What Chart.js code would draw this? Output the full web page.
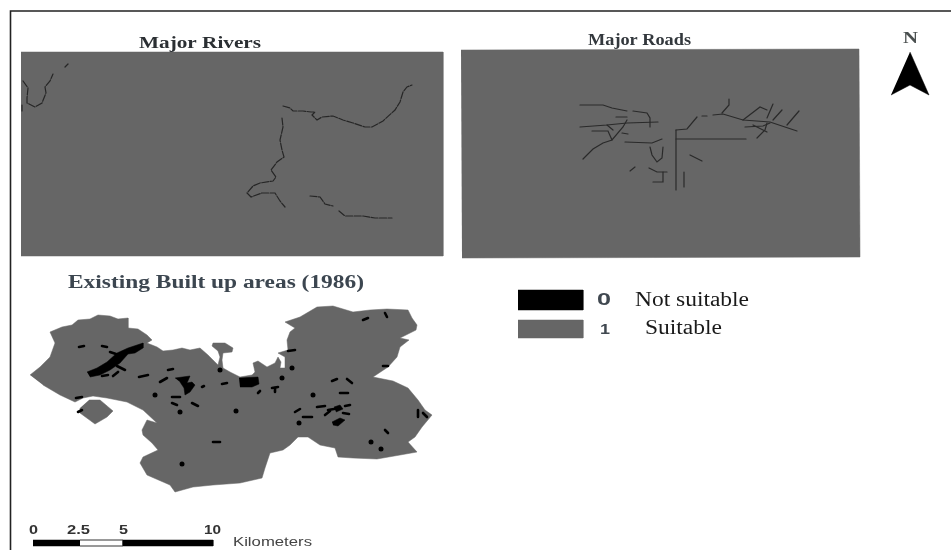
<!DOCTYPE html>
<html>
<head>
<meta charset="utf-8">
<style>
  html, body { margin: 0; padding: 0; background: #fff; }
  #map { display: block; filter: blur(0.6px); }
</style>
<script src="https://cdn.jsdelivr.net/npm/chart.js@4/dist/chart.umd.min.js"></script>
</head>
<body>
<canvas id="map" width="951" height="550"></canvas>
<script>
// map outlines and features in map units
const riversPanel = [[21, 52], [443, 52], [443, 256], [21, 256]];
const roadsPanel = [[461, 50], [859, 49], [860, 257], [462, 258]];
const builtUpMain = [[30,375],[40,367],[50,357],[55,343],[50,332],[62,327],[72,325],[78,320],[90,319],[98,315],[110,316],[118,319],[128,318],[128,328],[138,329],[147,335],[152,340],[147,343],[157,347],[163,351],[173,350],[182,348],[190,350],[200,348],[208,355],[213,360],[218,365],[220,357],[218,351],[212,346],[213,343],[225,343],[233,348],[232,352],[223,353],[222,360],[223,368],[230,372],[240,377],[252,375],[255,372],[253,363],[258,361],[267,367],[275,363],[278,357],[281,362],[280,368],[285,368],[285,357],[278,353],[288,350],[287,340],[290,332],[295,328],[285,322],[300,317],[317,307],[333,306],[353,312],[370,310],[387,309],[408,310],[412,318],[417,325],[416,330],[400,338],[409,340],[400,347],[397,357],[388,367],[373,377],[393,381],[408,388],[418,400],[425,410],[432,415],[422,427],[415,437],[408,442],[417,452],[400,455],[377,459],[353,458],[338,457],[335,448],[320,445],[308,437],[298,437],[290,445],[283,450],[270,453],[265,468],[262,478],[240,483],[213,485],[193,487],[175,492],[170,485],[147,475],[140,463],[143,457],[158,450],[152,443],[143,435],[142,430],[147,420],[157,423],[143,410],[127,402],[107,398],[93,396],[83,398],[75,402],[60,395],[43,385]];
const builtUpIsland = [[89,400],[100,400],[113,411],[107,417],[95,424],[80,413],[80,408]];

const unsuitableBlocks = [
  [[87,372],[97,368],[107,362],[117,353],[128,348],[143,343],[143,348],[135,353],[128,354],[120,363],[110,370],[100,375],[90,377]],
  [[175,378],[190,376],[187,383],[192,382],[195,385],[190,392],[185,395],[184,388],[180,382]],
  [[239,378],[258,377],[259,384],[252,387],[240,387]],
  [[332,422],[340,418],[345,420],[338,426],[333,425]],
  [[334,407],[340,405],[343,409],[336,412]]
];
const unsuitableStrokes = [
  [[79,347],[84,346]], [[102,346],[107,347]], [[76,398],[82,397]], [[78,412],[82,410]], [[139,377],[148,375]],
  [[160,382],[167,378]], [[168,370],[173,369]], [[117,366],[125,370]], [[102,376],[108,375]], [[172,397],[180,397]],
  [[172,403],[177,405]], [[192,403],[198,406]], [[213,442],[220,442]], [[222,384],[227,383]], [[363,320],[368,318]],
  [[385,313],[387,317]], [[288,351],[295,350]], [[383,366],[388,366]], [[332,381],[337,379]], [[347,379],[352,383]],
  [[340,393],[348,393]], [[317,407],[325,406]], [[328,410],[340,408]], [[345,406],[350,405]], [[343,413],[349,414]],
  [[303,417],[312,417]], [[295,412],[300,409]], [[325,415],[330,411]], [[385,430],[388,433]], [[418,410],[418,417]],
  [[423,413],[427,417]], [[272,388],[278,387]], [[275,388],[275,392]], [[258,393],[260,391]], [[202,387],[204,386]],
  [[110,352],[116,354]], [[113,376],[118,372]]
];
const unsuitableDots = [[155,395],[180,412],[236,411],[282,378],[292,368],[313,395],[299,423],[371,442],[381,449],[182,464],[220,370]];

const rivers = [
  [[283,106],[290,108],[293,111],[303,111],[311,112],[315,112],[312,115],[317,120],[322,117],[333,116],[343,120],[353,123],[365,127],[372,127],[383,121],[395,110],[400,102],[403,92],[407,87],[412,85]],
  [[282,118],[283,127],[280,140],[282,150],[284,157],[277,162],[271,170],[276,177],[273,181],[260,183],[253,186],[247,193],[251,197],[262,193],[275,193],[280,201],[285,207]],
  [[310,196],[320,197],[325,204],[333,206]],
  [[339,211],[345,216],[355,216],[363,216],[375,218],[392,218]],
  [[23,81],[28,88],[27,98],[27,103],[35,107],[42,103],[46,93],[45,87],[50,81],[53,74]],
  [[65,67],[68,64]],
  [[22,105],[22,111]]
];
const roads = [
  [[580,105],[603,105],[612,108],[627,111]],
  [[633,111],[647,113],[650,118],[650,127]],
  [[580,127],[607,125],[627,123],[658,122]],
  [[616,117],[627,117]],
  [[627,120],[623,127],[612,140],[603,143],[593,149],[583,159]],
  [[592,131],[608,131],[612,140]],
  [[622,133],[628,134]],
  [[607,125],[613,130]],
  [[625,142],[652,143],[662,139]],
  [[676,130],[676,190]],
  [[676,130],[687,129],[697,117]],
  [[676,139],[746,139]],
  [[702,116],[707,116]],
  [[713,115],[723,114],[743,120],[770,122],[797,131]],
  [[722,113],[729,105],[729,99]],
  [[743,120],[760,107],[767,110]],
  [[767,118],[773,104]],
  [[773,120],[782,110]],
  [[787,125],[793,118],[799,111]],
  [[745,127],[763,126],[770,123]],
  [[757,138],[765,130],[767,123]],
  [[753,125],[767,132]],
  [[650,147],[652,155],[657,162],[662,158],[663,147]],
  [[649,168],[657,172],[667,172]],
  [[663,172],[663,182],[653,182]],
  [[684,172],[684,187]],
  [[690,155],[702,161]],
  [[630,171],[635,167]]
];

const northArrow = [[910,52],[929,95],[910,85],[891,95]];
const notSuitableKey = [[518,290],[583,290],[583,310],[518,310]];
const suitableKey = [[518,320],[583,320],[583,338],[518,338]];
const scaleBlackA = [[33,540],[80,540],[80,546],[33,546]];
const scaleWhite = [[80,540],[123,540],[123,546],[80,546]];
const scaleBlackB = [[123,540],[213,540],[213,546],[123,546]];
const frame = [[10.5,550],[10.5,11],[951,11]];

// text
const panelTitles = ['Major Rivers', 'Major Roads', 'Existing Built up areas (1986)'];
const legendLabels = ['Not suitable', 'Suitable'];
const legendCodes = ['0', '1'];
const scaleTicks = ['0', '2.5', '5', '10'];
const scaleUnit = 'Kilometers';

const GREY = '#666666';

function pts(list) {
  return list.map(p => ({ x: p[0], y: p[1] }));
}
function area(list, color, border) {
  return { data: pts(list), showLine: true, fill: 'shape', backgroundColor: color,
           borderColor: border || color, borderWidth: border ? 1 : 0.5, pointRadius: 0, tension: 0 };
}
function line(list, color, width, dash) {
  return { data: pts(list), showLine: true, fill: false, borderColor: color, borderWidth: width,
           borderDash: dash || [], borderCapStyle: 'round', pointRadius: 0, tension: 0 };
}

const datasets = [
  area(riversPanel, GREY),
  area(roadsPanel, GREY),
  area(builtUpMain, GREY),
  area(builtUpIsland, GREY),
  ...unsuitableBlocks.map(b => area(b, '#000000')),
  ...unsuitableStrokes.map(s => line(s, '#000000', 2.6)),
  { data: pts(unsuitableDots), showLine: false, pointRadius: 2.5, pointBackgroundColor: '#000000', pointBorderWidth: 0 },
  ...rivers.map(r => line(r, '#262626', 1.2, [7, 1.5])),
  ...roads.map(r => line(r, '#2a2a2a', 1.2)),
  area(northArrow, '#000000'),
  area(notSuitableKey, '#000000'),
  area(suitableKey, GREY),
  area(scaleBlackA, '#000000'),
  area(scaleWhite, '#ffffff', '#333333'),
  area(scaleBlackB, '#000000'),
  line(frame, '#222222', 1.6)
];
// later entries sit on top
datasets.forEach((d, i) => { d.order = -i; });

// text written through the same scales as the marks; w is the width it spans in the picture
const serifBold = 'bold 17px "Liberation Serif"';
const serif = '20px "Liberation Serif"';
const sansBold = 'bold 12px "Liberation Sans"';
const textItems = [
  { t: panelTitles[0], x: 139, y: 44, w: 122, font: serifBold, color: '#2b2f33' },
  { t: panelTitles[1], x: 588, y: 41, w: 103, font: 'bold 16px "Liberation Serif"', color: '#33383d' },
  { t: panelTitles[2], x: 68, y: 283, w: 296, font: 'bold 18px "Liberation Serif"', color: '#3c4650' },
  { t: 'N', x: 903, y: 39, w: 15, font: serifBold, color: '#4a4f4f' },
  { t: legendLabels[0], x: 635, y: 301, w: 114, font: serif, color: '#1a1a1a' },
  { t: legendLabels[1], x: 645, y: 329, w: 77, font: serif, color: '#1a1a1a' },
  { t: legendCodes[0], x: 597, y: 301, w: 14, font: 'bold 16px "Liberation Sans"', color: '#404850' },
  { t: legendCodes[1], x: 600, y: 330, w: 10, font: 'bold 15px "Liberation Sans"', color: '#404850' },
  { t: scaleTicks[0], x: 29, y: 531, w: 9, font: sansBold, color: '#333333' },
  { t: scaleTicks[1], x: 67, y: 531, w: 23, font: sansBold, color: '#333333' },
  { t: scaleTicks[2], x: 119, y: 531, w: 9, font: sansBold, color: '#333333' },
  { t: scaleTicks[3], x: 204, y: 531, w: 17, font: sansBold, color: '#333333' },
  { t: scaleUnit, x: 233, y: 543, w: 79, font: '12px "Liberation Sans"', color: '#444444' }
];

const mapText = {
  id: 'mapText',
  afterDatasetsDraw(chart) {
    const c = chart.ctx, sx = chart.scales.x, sy = chart.scales.y;
    textItems.forEach(it => {
      c.save();
      c.font = it.font;
      c.fillStyle = it.color;
      c.textBaseline = 'middle';
      c.translate(sx.getPixelForValue(it.x), sy.getPixelForValue(it.y));
      c.scale(it.w / c.measureText(it.t).width, 1);
      c.fillText(it.t, 0, 0);
      c.restore();
    });
  }
};

new Chart(document.getElementById('map').getContext('2d'), {
  type: 'scatter',
  data: { datasets: datasets },
  plugins: [mapText],
  options: {
    responsive: false,
    animation: false,
    devicePixelRatio: 1,
    layout: { padding: 0, autoPadding: false },
    plugins: { legend: { display: false }, tooltip: { enabled: false } },
    scales: {
      x: { type: 'linear', display: false, min: 0, max: 951 },
      y: { type: 'linear', display: false, min: 0, max: 550, reverse: true }
    }
  }
});
</script>
</body>
</html>
